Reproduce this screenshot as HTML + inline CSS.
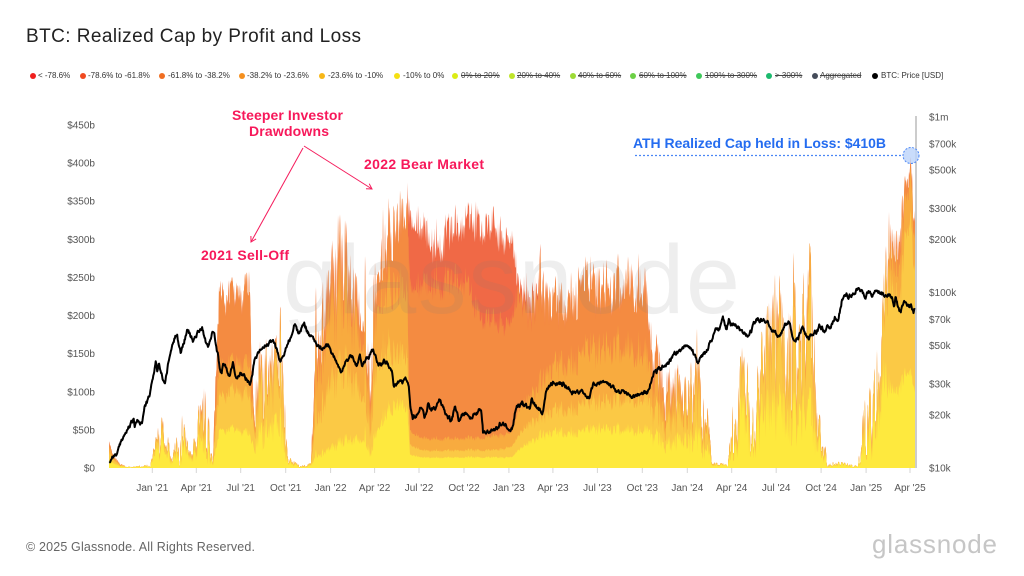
<!DOCTYPE html>
<html><head><meta charset="utf-8">
<style>
html,body{margin:0;padding:0;background:#fff;}
body{width:1024px;height:576px;overflow:hidden;position:relative;font-family:"Liberation Sans",Arial,sans-serif;}
svg{position:absolute;left:0;top:0;}
.lg{position:absolute;top:71px;font-size:8px;color:#333;white-space:nowrap;line-height:10px;}
.dot{position:absolute;top:73px;width:6px;height:6px;border-radius:50%;}
.st{text-decoration:line-through;color:#444;}
</style></head><body>
<svg width="1024" height="576" viewBox="0 0 1024 576" font-family="Liberation Sans, Arial, sans-serif">
  <text x="26" y="42" font-size="19" fill="#222" textLength="335" lengthAdjust="spacing">BTC: Realized Cap by Profit and Loss</text>

  <g id="areas"></g>

  <text x="283" y="313" font-size="97" fill="#7a7a7a" fill-opacity="0.13" textLength="457" lengthAdjust="spacing">glassnode</text>

  <path id="price" d="" fill="none" stroke="#000" stroke-width="2" stroke-linejoin="round"/>

  <line x1="916" y1="116" x2="916" y2="468" stroke="#9a9a9a" stroke-width="1"/>

  <g stroke="#d6d6d6" stroke-width="1">
    <line x1="152.3" y1="468" x2="152.3" y2="473"/>
    <line x1="196.3" y1="468" x2="196.3" y2="473"/>
    <line x1="240.7" y1="468" x2="240.7" y2="473"/>
    <line x1="285.7" y1="468" x2="285.7" y2="473"/>
    <line x1="330.6" y1="468" x2="330.6" y2="473"/>
    <line x1="374.6" y1="468" x2="374.6" y2="473"/>
    <line x1="419.0" y1="468" x2="419.0" y2="473"/>
    <line x1="464.0" y1="468" x2="464.0" y2="473"/>
    <line x1="508.9" y1="468" x2="508.9" y2="473"/>
    <line x1="552.9" y1="468" x2="552.9" y2="473"/>
    <line x1="597.4" y1="468" x2="597.4" y2="473"/>
    <line x1="642.3" y1="468" x2="642.3" y2="473"/>
    <line x1="687.3" y1="468" x2="687.3" y2="473"/>
    <line x1="731.7" y1="468" x2="731.7" y2="473"/>
    <line x1="776.2" y1="468" x2="776.2" y2="473"/>
    <line x1="821.1" y1="468" x2="821.1" y2="473"/>
    <line x1="866.1" y1="468" x2="866.1" y2="473"/>
    <line x1="910.0" y1="468" x2="910.0" y2="473"/>
  </g>

  <g font-size="10" fill="#555" text-anchor="middle">
    <text x="152.3" y="491">Jan '21</text>
    <text x="196.3" y="491">Apr '21</text>
    <text x="240.7" y="491">Jul '21</text>
    <text x="285.7" y="491">Oct '21</text>
    <text x="330.6" y="491">Jan '22</text>
    <text x="374.6" y="491">Apr '22</text>
    <text x="419.0" y="491">Jul '22</text>
    <text x="464.0" y="491">Oct '22</text>
    <text x="508.9" y="491">Jan '23</text>
    <text x="552.9" y="491">Apr '23</text>
    <text x="597.4" y="491">Jul '23</text>
    <text x="642.3" y="491">Oct '23</text>
    <text x="687.3" y="491">Jan '24</text>
    <text x="731.7" y="491">Apr '24</text>
    <text x="776.2" y="491">Jul '24</text>
    <text x="821.1" y="491">Oct '24</text>
    <text x="866.1" y="491">Jan '25</text>
    <text x="910.0" y="491">Apr '25</text>
  </g>

  <g font-size="10" fill="#555" text-anchor="end">
    <text x="95" y="128.5">$450b</text>
    <text x="95" y="166.6">$400b</text>
    <text x="95" y="204.7">$350b</text>
    <text x="95" y="242.8">$300b</text>
    <text x="95" y="280.9">$250b</text>
    <text x="95" y="319.0">$200b</text>
    <text x="95" y="357.2">$150b</text>
    <text x="95" y="395.3">$100b</text>
    <text x="95" y="433.4">$50b</text>
    <text x="95" y="471.5">$0</text>
  </g>

  <g font-size="10" fill="#555">
    <text x="929" y="120.5">$1m</text>
    <text x="929" y="147.7">$700k</text>
    <text x="929" y="173.3">$500k</text>
    <text x="929" y="212.2">$300k</text>
    <text x="929" y="243.1">$200k</text>
    <text x="929" y="296.0">$100k</text>
    <text x="929" y="323.2">$70k</text>
    <text x="929" y="348.8">$50k</text>
    <text x="929" y="387.7">$30k</text>
    <text x="929" y="418.6">$20k</text>
    <text x="929" y="471.5">$10k</text>
  </g>

  <g font-size="14" font-weight="bold" fill="#f7185a">
    <text x="232" y="120" textLength="111" lengthAdjust="spacing">Steeper Investor</text>
    <text x="249" y="136" textLength="80" lengthAdjust="spacing">Drawdowns</text>
    <text x="201" y="260" textLength="88" lengthAdjust="spacing">2021 Sell-Off</text>
    <text x="364" y="169" textLength="120" lengthAdjust="spacing">2022 Bear Market</text>
  </g>
  <g stroke="#f51c5c" stroke-width="1" fill="none">
    <path d="M304,146 L372,189"/>
    <path d="M369.2,183.7 L372,189 L366,188.8"/>
    <path d="M303,148 L251,242"/>
    <path d="M256.1,238.9 L251,242 L250.9,236"/>
  </g>

  <text x="633" y="148" font-size="14" font-weight="bold" fill="#246cf0" textLength="253" lengthAdjust="spacing">ATH Realized Cap held in Loss: $410B</text>
  <line x1="635" y1="155.5" x2="903" y2="155.5" stroke="#4a86f5" stroke-width="1.2" stroke-dasharray="2,2"/>
  <circle cx="911" cy="155.5" r="8" fill="#bcd3fa" fill-opacity="0.8" stroke="#4a86f5" stroke-width="1" stroke-dasharray="2,1.5"/>

  <text x="26" y="551" font-size="12.5" fill="#666" textLength="229" lengthAdjust="spacing">© 2025 Glassnode. All Rights Reserved.</text>
  <text x="872" y="553" font-size="26" fill="#c6c6c6" textLength="125" lengthAdjust="spacing">glassnode</text>
</svg>

<div class="dot" style="left:30px;background:#f0201e"></div><div class="lg" style="left:38px">&lt; -78.6%</div>
<div class="dot" style="left:80px;background:#f04a20"></div><div class="lg" style="left:88px">-78.6% to -61.8%</div>
<div class="dot" style="left:159px;background:#f06e22"></div><div class="lg" style="left:168px">-61.8% to -38.2%</div>
<div class="dot" style="left:239px;background:#f5901f"></div><div class="lg" style="left:247px">-38.2% to -23.6%</div>
<div class="dot" style="left:319px;background:#f7b718"></div><div class="lg" style="left:328px">-23.6% to -10%</div>
<div class="dot" style="left:394px;background:#f5e012"></div><div class="lg" style="left:403px">-10% to 0%</div>
<div class="dot" style="left:452px;background:#dcec14"></div><div class="lg st" style="left:461px">0% to 20%</div>
<div class="dot" style="left:509px;background:#bfe52a"></div><div class="lg st" style="left:517px">20% to 40%</div>
<div class="dot" style="left:570px;background:#9ddb36"></div><div class="lg st" style="left:578px">40% to 60%</div>
<div class="dot" style="left:630px;background:#6cd046"></div><div class="lg st" style="left:639px">60% to 100%</div>
<div class="dot" style="left:696px;background:#3ec85a"></div><div class="lg st" style="left:705px">100% to 300%</div>
<div class="dot" style="left:766px;background:#1cba6e"></div><div class="lg st" style="left:775px">&gt; 300%</div>
<div class="dot" style="left:812px;background:#454c5a"></div><div class="lg st" style="left:820px">Aggregated</div>
<div class="dot" style="left:872px;background:#000"></div><div class="lg" style="left:881px">BTC: Price [USD]</div>

<script>
(function(){
function rnd(seed){let s=seed>>>0;return function(){s=(Math.imul(s,1664525)+1013904223)>>>0;return s/4294967296;};}
var K=[
[109,12,22,30,36,36,0.3],
[113,8,14,18,20,20,0.4],
[120,3,5,6,7,7,0.6],
[126,2,2,2,2,2,0.9],
[150,4,5,5,5,5,0.95],
[155,25,35,38,38,38,0.95],
[161,45,62,68,68,68,0.95],
[167,35,50,55,55,55,0.95],
[172,8,10,10,10,10,0.95],
[177,30,45,48,48,48,0.95],
[182,50,68,72,72,72,0.95],
[190,15,20,20,20,20,0.95],
[198,40,65,70,70,70,0.95],
[204,60,110,130,135,135,0.9],
[209,40,70,80,80,80,0.95],
[213,5,6,6,6,6,0.9],
[217,40,90,130,200,200,0.4],
[220,55,105,150,250,250,0.22],
[235,55,110,150,245,245,0.22],
[250,50,105,150,260,260,0.22],
[253,40,80,100,120,120,0.6],
[262,70,150,170,175,175,0.75],
[275,70,140,160,165,165,0.75],
[282,80,190,215,220,220,0.7],
[288,10,15,15,15,15,0.8],
[300,3,4,4,4,4,0.8],
[311,5,8,8,8,8,0.8],
[316,25,100,190,240,240,0.5],
[330,30,130,240,285,285,0.42],
[340,40,160,280,335,335,0.42],
[352,50,160,270,320,320,0.42],
[365,60,150,260,305,305,0.42],
[370,30,80,130,160,160,0.6],
[375,60,170,270,320,320,0.42],
[388,90,190,290,360,360,0.3],
[395,100,180,280,380,380,0.25],
[407,90,170,270,385,385,0.2],
[410,20,35,55,270,372,0.15],
[423,15,25,42,265,345,0.15],
[435,15,25,42,265,318,0.15],
[450,15,25,42,270,342,0.15],
[465,15,25,42,265,348,0.15],
[478,15,25,42,215,342,0.15],
[495,15,25,45,205,336,0.15],
[512,15,30,50,205,318,0.15],
[518,25,45,80,245,260,0.22],
[530,40,70,110,240,255,0.28],
[540,50,80,130,285,292,0.28],
[548,50,80,140,245,245,0.28],
[560,55,90,160,250,250,0.28],
[580,55,95,170,275,275,0.28],
[600,60,100,180,270,270,0.28],
[615,60,105,185,275,275,0.28],
[628,60,110,190,292,292,0.28],
[645,60,110,180,280,280,0.28],
[650,55,100,150,195,195,0.45],
[660,50,90,130,160,160,0.55],
[672,40,80,115,125,125,0.65],
[685,60,110,150,150,150,0.7],
[697,70,150,190,190,190,0.7],
[706,40,80,100,100,100,0.8],
[712,5,8,8,8,8,0.8],
[728,5,5,5,5,5,0.8],
[733,60,120,120,120,120,0.85],
[745,120,170,175,175,175,0.85],
[755,80,110,110,110,110,0.85],
[762,100,180,185,185,185,0.8],
[778,110,230,260,260,260,0.75],
[785,100,180,190,190,190,0.8],
[793,110,250,290,290,290,0.7],
[800,100,200,220,220,220,0.75],
[810,110,260,305,305,305,0.7],
[818,50,80,85,85,85,0.85],
[828,8,10,10,10,10,0.9],
[858,5,5,5,5,5,0.9],
[863,80,120,120,120,120,0.85],
[872,60,100,100,100,100,0.85],
[878,120,180,180,180,180,0.75],
[884,140,240,250,250,250,0.45],
[889,130,300,340,355,355,0.25],
[896,120,270,320,345,345,0.22],
[900,120,250,300,335,335,0.25],
[905,130,320,370,390,390,0.2],
[911,130,340,395,410,410,0.1],
[915,120,300,350,375,375,0.25]
];
function interp(x){
  if(x<=K[0][0]) return K[0].slice(1);
  for(var i=0;i<K.length-1;i++){
    if(x>=K[i][0]&&x<=K[i+1][0]){
      var t=(x-K[i][0])/(K[i+1][0]-K[i][0]);var r=[];
      for(var j=1;j<7;j++) r.push(K[i][j]+(K[i+1][j]-K[i][j])*t);
      return r;
    }
  }
  return K[K.length-1].slice(1);
}
var R=rnd(7);
var cols=['#fee93e','#fbc945','#f8ab3f','#f48b41','#f06946'];
var N=[[],[],[],[],[]];
var slow=0;
for(var x=109;x<=915.01;x+=0.5){
  var k=interp(x);
  slow=0.82*slow+0.34*(R()-0.5);
  var u=0.5+slow+(R()-0.5)*0.9; u=Math.max(0,Math.min(1,u));
  var f=1-k[5]*u;
  var cum=0,prev=0;
  for(var i=0;i<5;i++){
    var th=k[i]-prev; prev=k[i];
    cum+=th*f*(1+0.1*(R()-0.5));
    N[i].push(x.toFixed(1)+','+(468-cum*0.7622).toFixed(1));
  }
}
var g=document.getElementById('areas');var ns='http://www.w3.org/2000/svg';
for(var i=4;i>=0;i--){
  var p=document.createElementNS(ns,'path');
  p.setAttribute('d','M109,468 L'+N[i].join(' L')+' L915,468 Z');
  p.setAttribute('fill',cols[i]);
  g.appendChild(p);
}
var P=[['2020-10-05',10700],['2020-10-12',11500],['2020-10-20',11900],['2020-10-27',13600],['2020-11-05',15500],['2020-11-17',17700],['2020-11-24',19100],['2020-11-26',17100],['2020-12-01',18800],['2020-12-11',18000],['2020-12-17',22800],['2020-12-27',26300],['2021-01-02',32200],['2021-01-08',40600],['2021-01-11',35500],['2021-01-14',39200],['2021-01-22',32000],['2021-01-27',30400],['2021-02-08',46400],['2021-02-21',57500],['2021-02-28',45200],['2021-03-13',61200],['2021-03-25',52300],['2021-04-13',63500],['2021-04-25',49000],['2021-05-08',58800],['2021-05-12',49200],['2021-05-19',37000],['2021-05-23',34700],['2021-05-26',39300],['2021-06-08',33400],['2021-06-15',40200],['2021-06-22',32500],['2021-07-06',34200],['2021-07-20',29800],['2021-07-30',42000],['2021-08-14',47800],['2021-08-22',49300],['2021-09-06',52600],['2021-09-21',40600],['2021-10-01',48200],['2021-10-20',66000],['2021-10-27',58400],['2021-11-08',67500],['2021-11-18',56900],['2021-12-04',49400],['2021-12-27',50700],['2022-01-10',41800],['2022-01-22',35000],['2022-02-10',44000],['2022-02-24',38300],['2022-03-02',44400],['2022-03-07',38000],['2022-03-29',47400],['2022-04-11',39500],['2022-04-20',41500],['2022-04-30',37700],['2022-05-06',36000],['2022-05-11',29000],['2022-05-31',31800],['2022-06-10',29100],['2022-06-13',22500],['2022-06-18',19000],['2022-07-08',21600],['2022-07-12',19300],['2022-07-20',23400],['2022-07-26',21200],['2022-08-14',24300],['2022-08-27',20000],['2022-09-06',18800],['2022-09-13',22400],['2022-09-21',18500],['2022-10-05',20300],['2022-10-15',19100],['2022-10-29',20800],['2022-11-05',21300],['2022-11-09',15900],['2022-11-21',15800],['2022-12-14',17800],['2022-12-31',16500],['2023-01-08',17100],['2023-01-14',20900],['2023-01-29',23700],['2023-02-13',21800],['2023-02-16',24600],['2023-03-10',20200],['2023-03-18',27400],['2023-04-13',30400],['2023-04-27',29500],['2023-05-11',26900],['2023-06-15',25100],['2023-06-23',30700],['2023-07-13',31400],['2023-07-31',29200],['2023-08-17',26600],['2023-09-11',25100],['2023-09-30',26900],['2023-10-16',28500],['2023-10-24',34500],['2023-11-15',37900],['2023-12-08',44200],['2024-01-11',46600],['2024-01-23',39500],['2024-02-10',47100],['2024-02-28',62500],['2024-03-14',73100],['2024-03-20',62000],['2024-03-26',70700],['2024-04-17',61300],['2024-05-01',57800],['2024-05-21',70100],['2024-06-07',69300],['2024-06-24',60300],['2024-07-05',56700],['2024-07-29',66800],['2024-08-05',54000],['2024-08-24',64100],['2024-09-06',53900],['2024-09-27',65800],['2024-10-10',60300],['2024-10-29',72700],['2024-11-04',68700],['2024-11-12',88700],['2024-11-22',99000],['2024-11-26',91900],['2024-12-05',98800],['2024-12-17',106100],['2024-12-30',92400],['2025-01-06',102000],['2025-01-13',94500],['2025-01-20',102300],['2025-02-03',97700],['2025-02-24',91500],['2025-02-28',84300],['2025-03-02',94200],['2025-03-10',78500],['2025-03-24',87500],['2025-03-31',82500],['2025-04-02',85200],['2025-04-08',76300],['2025-04-10',81500]];
function day(s){var a=s.split('-').map(Number);return Math.round((Date.UTC(a[0],a[1]-1,a[2])-Date.UTC(2021,0,1))/864e5);}
var D=P.map(function(p){return [day(p[0]),Math.log10(p[1])];});
var R2=rnd(99);
var d0=D[0][0],d1=D[D.length-1][0];
var W=[0];for(var d=1;d<=d1-d0;d++)W.push(W[d-1]+(R2()-0.5)*2*0.012);
var pts=[];var seg=0;
for(var d=d0;d<=d1;d++){
  while(seg<D.length-2&&d>D[seg+1][0])seg++;
  var a=D[seg],b=D[seg+1];
  var t=(b[0]===a[0])?0:(d-a[0])/(b[0]-a[0]);
  var lp=a[1]+(b[1]-a[1])*t;
  var wa=W[a[0]-d0],wb=W[b[0]-d0];
  lp+=(W[d-d0]-(wa+(wb-wa)*t));
  var xx=152.3+d*0.48855,yy=468-(lp-4)*175.5;
  pts.push(xx.toFixed(1)+','+yy.toFixed(1));
}
document.getElementById('price').setAttribute('d','M'+pts.join(' L'));
})();
</script>
</body></html>
